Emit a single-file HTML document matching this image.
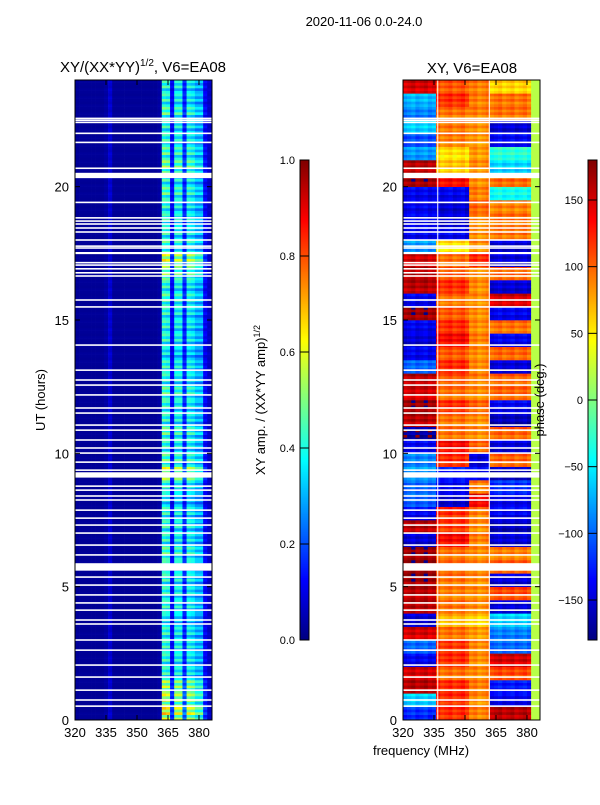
<!DOCTYPE html>
<html><head><meta charset="utf-8">
<style>
body{margin:0;background:#fff;font-family:"Liberation Sans","DejaVu Sans",sans-serif;}
svg text{font-family:"Liberation Sans","DejaVu Sans",sans-serif;}
</style></head>
<body>
<svg id="fig" width="600" height="800" xmlns="http://www.w3.org/2000/svg">
<rect width="600" height="800" fill="#fff"/>
<text x="364" y="26" font-size="13" text-anchor="middle">2020-11-06 0.0-24.0</text>
<text x="143" y="72" font-size="15" text-anchor="middle">XY/(XX*YY)<tspan font-size="10" dy="-6">1/2</tspan><tspan dy="6">, V6=EA08</tspan></text>
<text x="472" y="73" font-size="15" text-anchor="middle">XY, V6=EA08</text>
<text transform="translate(45,400) rotate(-90)" font-size="13" text-anchor="middle">UT (hours)</text>
<text transform="translate(265,400) rotate(-90)" font-size="13" text-anchor="middle">XY amp. / (XX*YY amp)<tspan font-size="9" dy="-5">1/2</tspan></text>
<text x="421" y="755" font-size="13" text-anchor="middle">frequency (MHz)</text>
<g id="left"></g>
<g id="right"></g>
<g id="cbars"></g>
<g id="axes"></g>
<text transform="translate(544,400) rotate(-90)" font-size="13" text-anchor="middle">phase (deg.)</text>
</svg>
<script>
// ---- data ----
const freqBins = [320,322,324,326,328,330,332,334,336,338,340,342,344,346,348,350,352,354,356,358,360,362,364,366,368,370,372,374,376,378,380,382,384];
const ampCols = [0.02,0.02,0.02,0.02,0.02,0.02,0.02,0.03,0.07,0.02,0.02,0.02,0.02,0.02,0.02,0.02,0.02,0.02,0.02,0.02,0.03,0.42,0.4,0.12,0.38,0.38,0.16,0.38,0.36,0.3,0.3,0.12,0.06];
const ampRowScale = [1.5,1.4,1.3,1.0,1.0,1.0,1.0,0.9,1.0,1.0,1.0,1.0,1.1,1.0,1.0,1.0,0.9,1.0,1.4,1.1,1.0,1.1,1.0,1.0,1.1,1.0,1.0,0.9,1.0,1.0,1.0,1.1,1.0,1.2,1.4,1.1,1.0,1.0,1.0,1.1,1.0,1.2,1.1,1.0,1.0,1.1,1.0,1.0];
// phase per half-hour (0..24h) for regions: A 320-336, B 336-352, C 352-362, D 362-382, E 382-386
const phaseA = [-120,-60,160,150,-140,-100,150,-150,160,160,170,170,170,-150,160,-140,-100,-100,-80,-90,-140,-170,160,170,150,160,-100,-140,-150,-140,170,-140,160,160,150,-80,-140,-140,-140,-140,170,160,-80,-110,-60,-90,-70,150];
const phaseB = [120,120,120,95,120,115,95,70,95,90,95,95,95,135,115,120,-150,-140,-130,120,135,95,95,120,95,105,120,105,135,120,105,95,120,105,95,55,-140,-150,-150,-140,135,65,55,90,95,95,120,105];
const phaseC = [90,85,90,85,85,85,80,60,85,85,85,85,85,90,85,90,140,90,-140,-150,100,85,85,100,85,90,85,85,90,85,85,85,85,85,120,85,85,85,100,90,85,85,80,80,85,90,90,90];
const phaseD = [160,-140,-130,110,150,-100,-90,-60,-150,110,-150,100,90,-150,-160,-140,-140,-120,-160,100,-150,100,-160,-140,100,100,-150,100,-140,95,-140,150,-150,100,-150,-150,95,95,90,-40,100,-60,-30,-140,-150,95,95,60];
const phaseE = 20;
const gapHours = [22.56,22.49,22.41,22.0,21.66,20.69,20.42,19.41,18.83,18.71,18.6,18.45,18.3,18.0,17.77,17.7,17.51,17.15,17.06,16.92,16.77,16.65,15.75,15.49,14.06,13.12,12.75,12.56,12.19,11.7,11.51,11.06,10.87,10.5,10.2,10.01,9.67,9.37,9.19,8.77,8.62,8.4,8.25,7.87,7.57,7.31,7.01,6.56,6.19,5.74,5.36,5.06,4.69,4.39,4.12,3.75,3.6,3.0,2.62,2.06,1.61,1.12,0.75,0.52];
const gapWidths = [0.06,0.06,0.06,0.06,0.06,0.06,0.2,0.06,0.06,0.06,0.06,0.06,0.06,0.06,0.06,0.06,0.08,0.06,0.06,0.06,0.06,0.06,0.06,0.06,0.06,0.06,0.06,0.06,0.06,0.06,0.06,0.06,0.06,0.06,0.06,0.06,0.06,0.06,0.2,0.06,0.06,0.06,0.06,0.06,0.06,0.06,0.06,0.06,0.06,0.28,0.06,0.06,0.06,0.06,0.06,0.06,0.06,0.06,0.06,0.06,0.06,0.06,0.06,0.06];
const freqTicks = [320,335,350,365,380];
const timeTicks = [0,5,10,15,20];
const ampTicks = [0.0,0.2,0.4,0.6,0.8,1.0];
const phaseTicks = [-150,-100,-50,0,50,100,150];

// ---- helpers ----
const NS="http://www.w3.org/2000/svg";
const FMIN=320,FMAX=386.3,TMAX=24;
function jet(v){v=Math.max(0,Math.min(1,v));
 const r=Math.max(0,Math.min(1,1.5-Math.abs(4*v-3))),g=Math.max(0,Math.min(1,1.5-Math.abs(4*v-2))),b=Math.max(0,Math.min(1,1.5-Math.abs(4*v-1)));
 return `rgb(${Math.round(r*255)},${Math.round(g*255)},${Math.round(b*255)})`;}
function mk(tag,attrs,parent){const e=document.createElementNS(NS,tag);for(const k in attrs)e.setAttribute(k,attrs[k]);parent.appendChild(e);return e;}
function panel(x0){return {x:f=>x0+(f-FMIN)/(FMAX-FMIN)*137, y:t=>720-t*(640/TMAX)};}
const L=panel(75),R=panel(403);
const rowStep=0.1,nRows=240;

// left amplitude heatmap
const gl=document.getElementById('left');
for(let r=0;r<nRows;r++){
 const t=r*rowStep, seg=Math.min(47,Math.floor(t/0.5));
 const stripe=[1,0.75,1.15,0.85,1.1][r%5];
 for(let c=0;c<freqBins.length;c++){
  const f=freqBins[c], f2=Math.min(FMAX,f+2);
  let v=ampCols[c]; if(v>0.1) v=v*ampRowScale[seg]*stripe; else v=v*(1+(r%3)*0.15);
  const el=mk('rect',{x:L.x(f),y:L.y(t+rowStep),width:L.x(f2)-L.x(f)+0.3,height:L.y(t)-L.y(t+rowStep)+0.3,fill:jet(v)},gl);
  
  
 }}
// right phase heatmap
const gr=document.getElementById('right');
function region(f,seg){if(f<336)return phaseA[seg];if(f<352)return phaseB[seg];if(f<362)return phaseC[seg];if(f<382)return phaseD[seg];return phaseE;}
for(let r=0;r<nRows;r++){
 const t=r*rowStep, seg=Math.min(47,Math.floor(t/0.5));
 const jit=[0,-10,8,-6,10][r%5];
 for(let c=0;c<freqBins.length;c++){
  const f=freqBins[c], f2=Math.min(FMAX,f+2);
  let p=region(f,seg); if(f<382) p=p+jit+((c%3)-1)*6; if(p>180)p-=360; if(p<-180)p+=360;
  const el=mk('rect',{x:R.x(f),y:R.y(t+rowStep),width:R.x(f2)-R.x(f)+0.3,height:R.y(t)-R.y(t+rowStep)+0.3,fill:jet((p+180)/360)},gr);
  
  
 }}
// gaps & vertical white lines
[[gl,L],[gr,R]].forEach(([g,P])=>{
 gapHours.forEach((h,i)=>{const el=mk('rect',{x:P.x(FMIN),y:P.y(h+gapWidths[i]/2),width:137,height:gapWidths[i]*640/TMAX,fill:'#fff'},g);
  
  });
});
[336.5,361.5].forEach(f=>{const el=mk('rect',{x:R.x(f),y:80,width:1.2,height:640,fill:'#fff',opacity:0.8},gr);
 
 });

// axes
const ga=document.getElementById('axes');
[[L,75,'left'],[R,403,'right']].forEach(([P,x0,nm])=>{
 const fr=mk('rect',{x:x0,y:80,width:137,height:640,fill:'none',stroke:'#000','stroke-width':1},ga);
 
 
 freqTicks.forEach(f=>{const x=P.x(f);
  mk('line',{x1:x,x2:x,y1:720,y2:715,stroke:'#000'},ga);mk('line',{x1:x,x2:x,y1:80,y2:85,stroke:'#000'},ga);
  const tx=mk('text',{x:x,y:737,'font-size':13,'text-anchor':'middle'},ga);tx.textContent=f;
  
  });
 timeTicks.forEach(t=>{const y=P.y(t);
  mk('line',{x1:x0,x2:x0+5,y1:y,y2:y,stroke:'#000'},ga);mk('line',{x1:x0+137,x2:x0+132,y1:y,y2:y,stroke:'#000'},ga);
  const tx=mk('text',{x:x0-6,y:y+5,'font-size':13,'text-anchor':'end'},ga);tx.textContent=t;
  
  });
});
// colorbars
const gc=document.getElementById('cbars');
function cbar(x,nm){for(let i=0;i<240;i++){mk('rect',{x:x,y:640-(i+1)*2,width:9,height:2.3,fill:jet((i+0.5)/240)},gc);}
 const fr=mk('rect',{x:x,y:160,width:9,height:480,fill:'none',stroke:'#000'},gc);
 
 }
cbar(300,'amplitude-colorbar');cbar(588,'phase-colorbar');
ampTicks.forEach(v=>{const y=640-v*480;
 mk('line',{x1:300,x2:309,y1:y,y2:y,stroke:'#000'},gc);
 const tx=mk('text',{x:295,y:y+4,'font-size':11,'text-anchor':'end'},gc);tx.textContent=v.toFixed(1);
 
 });
phaseTicks.forEach(v=>{const y=400-v*480/360;
 mk('line',{x1:588,x2:597,y1:y,y2:y,stroke:'#000'},gc);
 const tx=mk('text',{x:583,y:y+4,'font-size':11,'text-anchor':'end'},gc);tx.textContent=v<0?'\u2212'+(-v):v;
 
 });
</script>
</body></html>
